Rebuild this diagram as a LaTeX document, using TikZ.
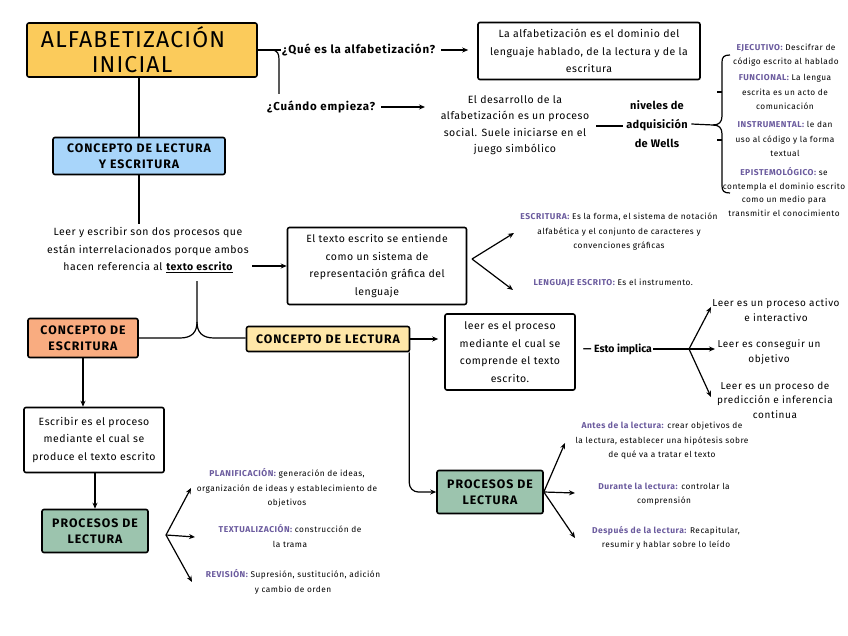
\documentclass[tikz,border=0pt]{standalone}
\usepackage{fontspec}
\setmainfont{Fira Sans}
\newfontfamily\fA[LetterSpace=5]{Fira Sans}
\newfontfamily\fS[LetterSpace=6]{Fira Sans}
\newfontfamily\fH[LetterSpace=8]{Fira Sans}
\newfontfamily\fL[LetterSpace=7]{Fira Sans}
\newfontfamily\fW[LetterSpace=3]{Fira Sans}
\newfontfamily\fT[LetterSpace=5]{Fira Sans}
\newfontfamily\fP[LetterSpace=6]{Fira Sans}
\usetikzlibrary{arrows.meta}
\definecolor{ttl}{HTML}{FBCB5B}
\definecolor{blu}{HTML}{A8D5FA}
\definecolor{org}{HTML}{F9AC80}
\definecolor{lye}{HTML}{FFE7A8}
\definecolor{grn}{HTML}{9CC4AE}
\definecolor{pur}{HTML}{6B5B9E}
\newcommand\hd[1]{\textcolor{pur}{\fP\bfseries\fontsize{8.5}{14.5}\selectfont #1}}
\begin{document}
\begin{tikzpicture}[x=1pt,y=-1pt,
 box/.style={draw,line width=1.6pt,rounded corners=2pt,inner sep=2pt},
 body/.style={font=\fA\fontsize{10.5}{17.5}\selectfont,align=center},
 small/.style={font=\fS\fontsize{8.3}{14.5}\selectfont,align=center},
 head/.style={font=\fH\bfseries\fontsize{12.3}{16}\selectfont,align=center},
 lbl/.style={font=\fL\bfseries\fontsize{11.5}{19}\selectfont,align=center},
 arr/.style={-{Stealth[length=6pt,width=5pt]},line width=1.2pt},
 ln/.style={line width=1.2pt}]
\useasboundingbox[fill=white] (0,0) rectangle (848,636);

% title
\node[box,fill=ttl,minimum width=230,minimum height=54,font=\fT\fontsize{23}{25}\selectfont,align=center] (title) at (142,50) {ALFABETIZACIÓN\hspace*{18pt}\\INICIAL\hspace*{20pt}};
\node[lbl,anchor=west,inner sep=1pt] (q1) at (281,50) {¿Qué es la alfabetización?};
\node[box,minimum width=222,minimum height=57,body] (def) at (589,51) {La alfabetización es el dominio del\\lenguaje hablado, de la lectura y de la\\escritura};
\draw[arr,shorten <=5pt,shorten >=9pt] (q1.east) -- (q1.east -| def.west);
\draw[ln] (title.east |- q1.west) -- (q1.west);
\node[lbl,anchor=west,inner sep=1pt] (q2) at (266,107) {¿Cuándo empieza?};
\draw[ln] (271,50) .. controls (278,50) and (279,54) .. (279,60) -- (279,94);
\node[body,font=\fA\fontsize{10.5}{16.5}\selectfont] (des) at (515,125) {El desarrollo de la\\alfabetización es un proceso\\social. Suele iniciarse en el\\juego simbólico};
\draw[arr,shorten <=5pt] (q2.east) -- (425,107) coordinate (q2e);
\node[lbl,font=\fW\bfseries\fontsize{11}{19}\selectfont] (wells) at (657,124) {niveles de\\adquisición\\de Wells};
\draw[ln] (596,126) coordinate (w0) -- (wells.west |- w0);
% brace
\draw[ln] (wells.east) -- (713,125) .. controls (719,125) and (722,122) .. (722,116) -- (722,62) .. controls (722,57) and (724,55) .. (730,55);
\draw[ln] (713,125) .. controls (719,125) and (722,128) .. (722,134) -- (722,186) .. controls (722,191) and (724,193) .. (730,193);
\draw[ln] (717,92) -- (722,92);
\draw[ln] (717,140) -- (722,140);
\node[small] (ej) at (786,55) {\hd{EJECUTIVO:} Descifrar de\\código escrito al hablado};
\node[small] (fun) at (785,92) {\hd{FUNCIONAL:} La lengua\\escrita es un acto de\\comunicación};
\node[small] (ins) at (785,139) {\hd{INSTRUMENTAL:} le dan\\uso al código y la forma\\textual};
\node[small,font=\fS\fontsize{8.3}{13.6}\selectfont] (epi) at (784,192) {\hd{EPISTEMOLÓGICO:} se\\contempla el dominio escrito\\como un medio para\\transmitir el conocimiento};

% concepto lectura y escritura
\node[box,fill=blu,minimum width=172,minimum height=37,head] (cle) at (139,156) {CONCEPTO DE LECTURA\\Y ESCRITURA};
\draw[ln] (cle.north |- title.south) -- (cle.north);
\node[body] (leer) at (148,250) {Leer y escribir son dos procesos que\\están interrelacionados porque ambos\\hacen referencia al \textbf{\underline{texto escrito}}};
\draw[ln] (cle.south) -- (cle.south |- leer.north);
\node[box,minimum width=179,minimum height=77,body] (tex) at (377,266) {El texto escrito se entiende\\como un sistema de\\representación gráfica del\\lenguaje};
\draw[arr] (252,266) coordinate (l0) -- (tex.west |- l0);
\coordinate (f1) at (472,259);
\draw[arr] (f1) -- (514,233) coordinate (f1a);
\draw[arr] (f1) -- (513,290) coordinate (f1b);
\node[small] (esc) at (619,232) {\hd{ESCRITURA:} Es la forma, el sistema de notación\\alfabética y el conjunto de caracteres y\\convenciones gráficas};
\node[small,anchor=west] (leng) at (530,283) {\hd{LENGUAJE ESCRITO:} Es el instrumento.};

% bracket
\node[box,fill=org,minimum width=110,minimum height=39,head] (ces) at (83,338) {CONCEPTO DE\\ESCRITURA};
\node[box,fill=lye,minimum width=163,minimum height=25,head] (cl) at (328,339) {CONCEPTO DE LECTURA};
\coordinate (b0) at (197,281);
\draw[ln] (b0) -- (197,322) .. controls (197,332) and (192,338) .. (180,338) -- (ces.east |- 0,338);
\draw[ln] (197,322) .. controls (197,332) and (202,338) .. (214,338) -- (cl.west |- 0,338);

% escritura branch
\node[box,minimum width=140,minimum height=65,body] (esb) at (94,440) {Escribir es el proceso\\mediante el cual se\\produce el texto escrito};
\draw[arr] (ces.south) -- (ces.south |- esb.north);
\node[box,fill=grn,minimum width=106,minimum height=43,head] (pl1) at (95,531) {PROCESOS DE\\LECTURA};
\draw[arr] (pl1.north |- esb.south) -- (pl1.north);
\coordinate (f2) at (166,535);
\draw[arr] (f2) -- (191,488);
\draw[arr] (f2) -- (195,537);
\draw[arr] (f2) -- (192,582);
\node[small] (plan) at (287,488) {\hd{PLANIFICACIÓN:} generación de ideas,\\organización de ideas y establecimiento de\\objetivos};
\node[small] (textu) at (290,536) {\hd{TEXTUALIZACIÓN:} construcción de\\la trama};
\node[small] (rev) at (293,582) {\hd{REVISIÓN:} Supresión, sustitución, adición\\y cambio de orden};

% lectura branch
\node[box,minimum width=130,minimum height=76,body] (lb) at (510,352) {leer es el proceso\\mediante el cual se\\comprende el texto\\escrito.};
\draw[arr,shorten >=6pt] (cl.east) -- (cl.east -| lb.west);
\node[font=\bfseries\fontsize{10.5}{19}\selectfont,anchor=west,inner sep=1pt] (esto) at (582,349) {— Esto implica};
\coordinate (f3) at (689,349);
\draw[ln] (esto.east) -- (f3);
\draw[arr] (f3) -- (711,307);
\draw[arr] (f3) -- (715,349);
\draw[arr] (f3) -- (711,397);
\node[body,font=\fS\fontsize{10}{15}\selectfont] (r1) at (776,310) {Leer es un proceso activo\\e interactivo};
\node[body,font=\fS\fontsize{10}{15}\selectfont] (r2) at (769,352) {Leer es conseguir un\\objetivo};
\node[body,font=\fS\fontsize{10}{14.5}\selectfont] (r3) at (775,400) {Leer es un proceso de\\predicción e inferencia\\continua};

\node[box,fill=grn,minimum width=106,minimum height=43,head] (pl2) at (490,492) {PROCESOS DE\\LECTURA};
\draw[arr,rounded corners=9pt] ([xshift=-1pt]cl.south east) |- (pl2.west);
\draw[arr] (pl2.east) -- (565,443);
\draw[arr] (pl2.east) -- (575,493);
\draw[arr] (pl2.east) -- (575,538);
\node[small] (antes) at (662,441) {\hd{Antes de la lectura:} crear objetivos de\\la lectura, establecer una hipótesis sobre\\de qué va a tratar el texto};
\node[small] (dur) at (664,494) {\hd{Durante la lectura:} controlar la\\comprensión};
\node[small] (desp) at (666,538) {\hd{Después de la lectura:} Recapitular,\\resumir y hablar sobre lo leído};
\end{tikzpicture}
\end{document}
